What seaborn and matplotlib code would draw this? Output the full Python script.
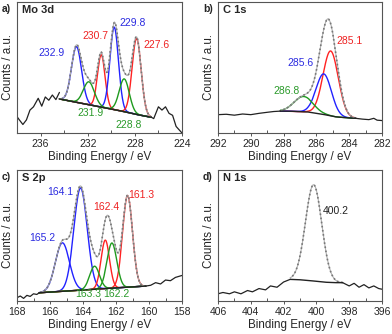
import numpy as np
import pandas as pd
import matplotlib
matplotlib.use("Agg")
import matplotlib.pyplot as plt
import seaborn as sns
from matplotlib.ticker import MultipleLocator

# ---------------- data ----------------
# Panel a: Mo 3d
mo_centers = [232.95, 230.85, 229.75, 227.85, 231.9, 228.9]
mo_amps = [42.5, 40.0, 63.0, 58.0, 17.5, 25.0]
mo_fwhm = [1.0, 0.75, 0.85, 0.9, 1.1, 1.0]
mo_colors = ["blue", "red", "blue", "red", "green", "green"]
mo_labels = ["232.9", "230.7", "229.8", "227.6", "231.9", "228.8"]
mo_label_x = [235.1, 231.35, 228.16, 226.13, 231.76, 228.57]
mo_label_y = [60.8, 74.0, 84.0, 67.0, 15.2, 6.3]
mo_bg_x = [234.4, 233.0, 231.0, 229.0, 227.5, 226.6]
mo_bg_y = [26.0, 23.5, 20.0, 16.5, 13.5, 12.0]
mo_raw_left_x = [238.0, 237.8, 237.5, 237.2, 236.9, 236.6, 236.2, 235.9, 235.6, 235.3, 235.0, 234.7, 234.4]
mo_raw_left_y = [12.5, 10.0, 6.5, 10.0, 17.5, 20.0, 26.5, 20.5, 27.5, 25.0, 29.0, 25.5, 31.0]
mo_raw_right_x = [226.6, 226.4, 226.0, 225.7, 225.4, 225.1, 224.8, 224.5, 224.2, 224.0]
mo_raw_right_y = [12.0, 11.0, 20.0, 17.5, 20.0, 15.0, 13.5, 5.0, 2.0, 0.0]

# Panel b: C 1s
c_centers = [285.13, 285.55, 286.78]
c_amps = [49.5, 31.0, 11.7]
c_fwhm = [1.1, 1.1, 1.35]
c_colors = ["red", "blue", "green"]
c_labels = ["285.1", "285.6", "286.8"]
c_label_x = [283.98, 286.96, 287.8]
c_label_y = [70.5, 53.8, 32.0]
c_bg_x = [288.2, 287.5, 286.5, 285.5, 284.8, 284.0, 283.6]
c_bg_y = [16.7, 16.6, 16.0, 14.0, 12.3, 11.5, 11.2]
c_raw_left_x = [292.0, 291.5, 291.0, 290.5, 290.0, 289.5, 289.0, 288.6, 288.2]
c_raw_left_y = [14.0, 14.3, 13.6, 14.5, 14.0, 15.0, 15.8, 16.4, 16.7]
c_raw_right_x = [283.6, 283.2, 282.8, 282.5, 282.3, 282.0]
c_raw_right_y = [11.2, 10.6, 10.2, 11.2, 9.8, 9.5]

# Panel c: S 2p
s_centers = [164.15, 165.25, 161.3, 162.65, 162.25, 163.3]
s_amps = [78.0, 37.0, 70.0, 37.0, 34.5, 17.6]
s_fwhm = [0.95, 1.0, 0.7, 0.6, 0.7, 0.7]
s_colors = ["blue", "blue", "red", "red", "green", "green"]
s_labels = ["164.1", "165.2", "161.3", "162.4", "163.3", "162.2"]
s_label_x = [165.36, 166.45, 160.45, 162.57, 163.7, 161.98]
s_label_y = [83.0, 48.0, 81.0, 71.4, 5.0, 5.0]
s_bg_x = [166.65, 160.2]
s_bg_y = [6.3, 11.4]
s_raw_left_x = [168.0, 167.8, 167.6, 167.4, 167.2, 167.0, 166.8, 166.65]
s_raw_left_y = [2.5, 3.8, 2.0, 4.3, 3.5, 5.5, 5.0, 6.3]
s_raw_right_x = [160.2, 159.9, 159.6, 159.3, 159.0, 158.7, 158.4, 158.0]
s_raw_right_y = [11.4, 12.0, 14.0, 13.0, 16.0, 15.5, 18.0, 19.5]

# Panel d: N 1s
n_centers = [400.17]
n_amps = [73.5]
n_fwhm = [1.17]
n_labels = ["400.2"]
n_label_x = [398.83]
n_label_y = [68.5]
n_bg_x = [401.6, 401.0, 400.2, 399.4, 398.8, 398.4]
n_bg_y = [16.5, 16.2, 15.3, 14.3, 14.0, 14.0]
n_raw_left_x = [406.0, 405.7, 405.3, 405.0, 404.6, 404.2, 403.9, 403.5, 403.1, 402.8, 402.4, 402.0, 401.6]
n_raw_left_y = [5.5, 6.5, 5.5, 7.0, 5.5, 8.0, 7.0, 9.5, 8.5, 11.5, 10.5, 14.5, 16.5]
n_raw_right_x = [398.4, 398.0, 397.7, 397.4, 397.1, 396.8, 396.5, 396.2, 396.0]
n_raw_right_y = [14.0, 11.5, 13.5, 10.5, 12.5, 10.0, 11.5, 9.5, 9.0]

# ---------------- style ----------------
sns.set_theme(style="ticks")
plt.rcParams["font.family"] = ["Liberation Sans", "DejaVu Sans"]
plt.rcParams["axes.edgecolor"] = "#555555"
plt.rcParams["axes.linewidth"] = 0.8

PAL = {"blue": "#2222ff", "red": "#ff2222", "green": "#1f9a1f"}
TXT = {"blue": "#2b2be0", "red": "#ee2222", "green": "#2a9a2a"}

W, H = 392, 334
fig = plt.figure(figsize=(W / 100, H / 100), dpi=100)


def box(l, r, t, b):
    return [l / W, 1 - b / H, (r - l) / W, (b - t) / H]


def comp(x, c, a, f):
    s = f / 2.3548
    return a * np.exp(-(x - c) ** 2 / (2 * s ** 2))


def panel(ax, xlim, major, centers, amps, fwhm, colors, bgx, bgy,
          rlx, rly, rrx, rry, labels, lx, ly, lcolors, tag, title):
    lo, hi = min(bgx), max(bgx)
    x = np.linspace(lo, hi, 300)
    bx = bgx[::-1] if bgx[0] > bgx[-1] else bgx
    by = bgy[::-1] if bgx[0] > bgx[-1] else bgy
    bg = np.interp(x, bx, by)
    total = bg.copy()
    for c, a, f, col in zip(centers, amps, fwhm, colors):
        y = bg + comp(x, c, a, f)
        total += comp(x, c, a, f)
        if col is not None:
            sns.lineplot(x=x, y=y, ax=ax, color=PAL[col], lw=1.0, sort=False)
    # envelope / data
    sns.lineplot(x=x, y=total, ax=ax, color="#b0b0b0", lw=0.8, sort=False)
    sns.lineplot(x=x, y=total, ax=ax, color="#777777", lw=1.2, sort=False,
                 linestyle=(0, (1, 1.5)))
    # background and raw
    sns.lineplot(x=bgx, y=bgy, ax=ax, color="#222222", lw=1.0, sort=False)
    sns.lineplot(x=rlx, y=rly, ax=ax, color="#222222", lw=0.9, sort=False)
    sns.lineplot(x=rrx, y=rry, ax=ax, color="#222222", lw=0.9, sort=False)
    for t, tx, ty, tc in zip(labels, lx, ly, lcolors):
        ax.text(tx, ty, t, color=tc, fontsize=7.5, ha="center", va="center")
    ax.set_xlim(*xlim)
    ax.set_ylim(0, 100)
    ax.xaxis.set_major_locator(MultipleLocator(major))
    ax.xaxis.set_minor_locator(MultipleLocator(major / 2))
    ax.set_yticks([])
    ax.tick_params(axis="x", which="major", direction="out", length=2.5,
                   width=0.7, labelsize=7.5, pad=2, color="#555555")
    ax.tick_params(axis="x", which="minor", direction="in", length=2,
                   width=0.7, color="#555555")
    ax.set_xlabel("Binding Energy / eV", fontsize=8.4, labelpad=1)
    ax.set_ylabel("Counts / a.u.", fontsize=8.4, labelpad=2)
    ax.text(0.03, 0.975, title, transform=ax.transAxes, fontsize=8,
            fontweight="bold", ha="left", va="top")
    pos = ax.get_position()
    fig.text(pos.x0 - 15 / W, pos.y1 - 7 / H, tag, fontsize=7.5,
             fontweight="bold", ha="left", va="center")


ax_a = fig.add_axes(box(17, 182, 2, 133))
ax_b = fig.add_axes(box(218, 382, 2, 133))
ax_c = fig.add_axes(box(17, 182, 170, 301))
ax_d = fig.add_axes(box(218, 382, 170, 301))

panel(ax_a, (238, 224), 4, mo_centers, mo_amps, mo_fwhm, mo_colors,
      mo_bg_x, mo_bg_y, mo_raw_left_x, mo_raw_left_y, mo_raw_right_x, mo_raw_right_y,
      mo_labels, mo_label_x, mo_label_y, [TXT[c] for c in mo_colors], "a)", "Mo 3d")
panel(ax_b, (292, 282), 2, c_centers, c_amps, c_fwhm, c_colors,
      c_bg_x, c_bg_y, c_raw_left_x, c_raw_left_y, c_raw_right_x, c_raw_right_y,
      c_labels, c_label_x, c_label_y, [TXT[c] for c in c_colors], "b)", "C 1s")
panel(ax_c, (168, 158), 2, s_centers, s_amps, s_fwhm, s_colors,
      s_bg_x, s_bg_y, s_raw_left_x, s_raw_left_y, s_raw_right_x, s_raw_right_y,
      s_labels, s_label_x, s_label_y, [TXT[c] for c in s_colors], "c)", "S 2p")
panel(ax_d, (406, 396), 2, n_centers, n_amps, n_fwhm, [None],
      n_bg_x, n_bg_y, n_raw_left_x, n_raw_left_y, n_raw_right_x, n_raw_right_y,
      n_labels, n_label_x, n_label_y, ["#222222"], "d)", "N 1s")

fig.savefig("out.png", dpi=100)
